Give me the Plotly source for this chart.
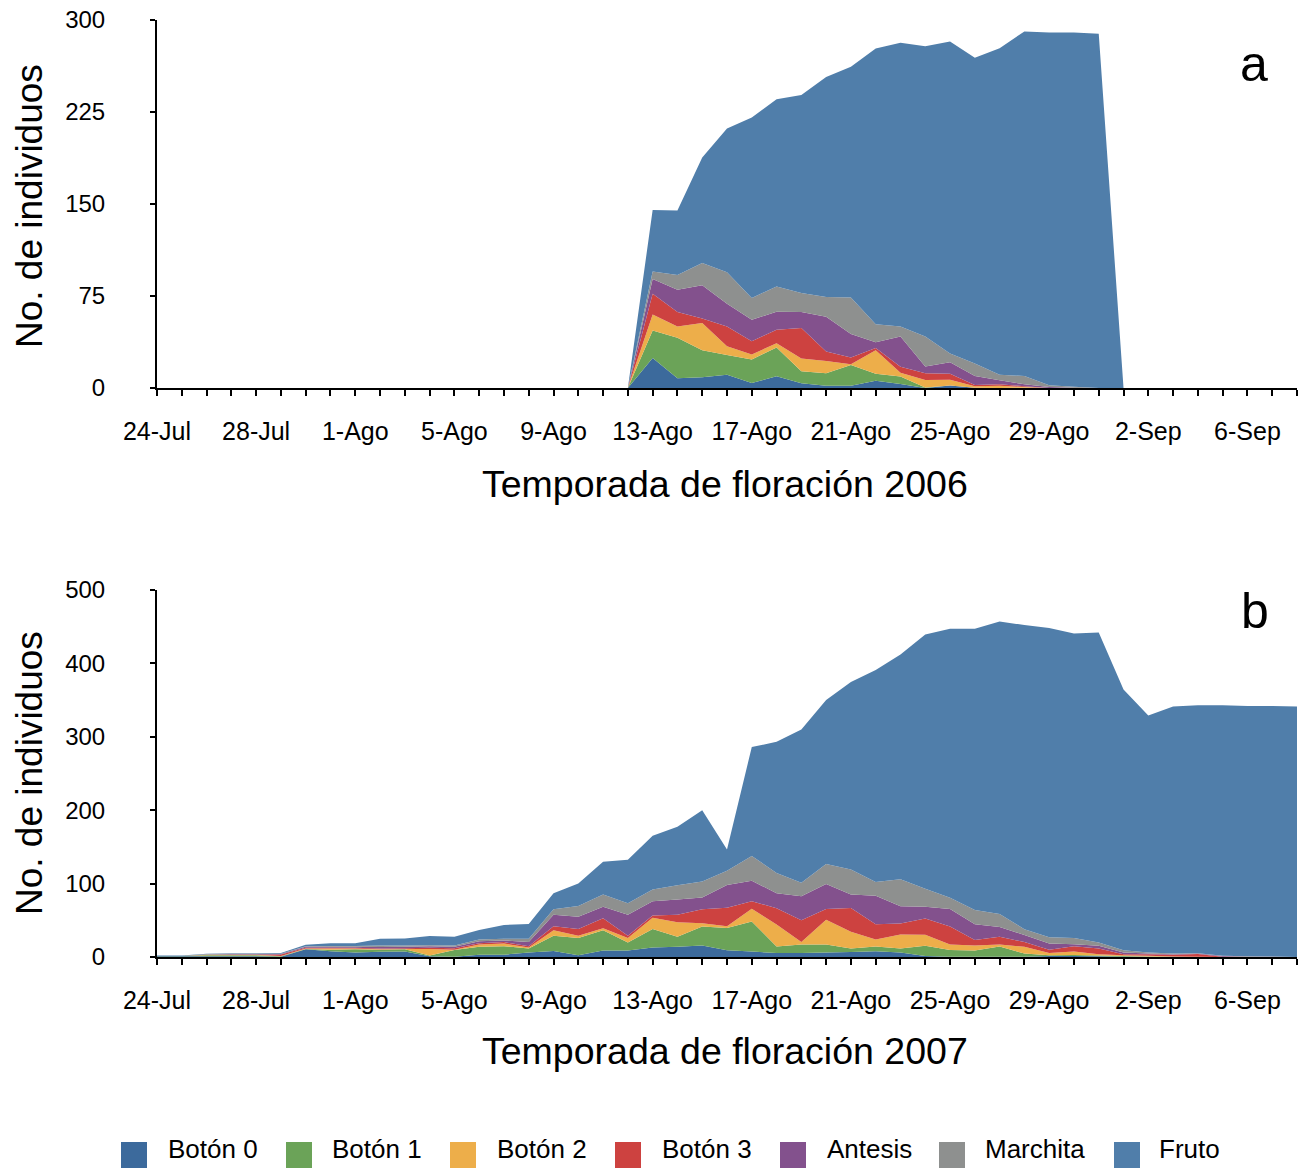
import plotly.graph_objects as go

# ---------------- data ----------------
series_names = ["Botón 0", "Botón 1", "Botón 2", "Botón 3", "Antesis", "Marchita", "Fruto"]
series_colors = ["#3C6A9C", "#6BA358", "#EDAE4A", "#CD4240", "#83518D", "#8E908F", "#507EAA"]

tick_days = [0, 4, 8, 12, 16, 20, 24, 28, 32, 36, 40, 44]
tick_labels = ["24-Jul", "28-Jul", "1-Ago", "5-Ago", "9-Ago", "13-Ago", "17-Ago",
               "21-Ago", "25-Ago", "29-Ago", "2-Sep", "6-Sep"]

# 2006 season: days since 24-Jul (19 .. 39)
dias_2006 = [19, 20, 21, 22, 23, 24, 25, 26, 27, 28, 29, 30, 31, 32, 33, 34, 35, 36, 37, 38, 39]
boton0_2006 = [0, 24.5, 7.9, 8.7, 10.9, 4.1, 9.5, 3.8, 1.9, 1.9, 6.0, 3.3, 0, 2.0, 0.3, 0, 0, 0, 0, 0, 0]
boton1_2006 = [0, 22.4, 33.0, 22.1, 16.1, 19.1, 23.5, 9.8, 10.1, 16.9, 5.7, 6.0, 0.5, 0, 0, 0, 0.3, 0, 0, 0, 0]
boton2_2006 = [0, 13.1, 9.2, 22.1, 7.1, 4.1, 3.5, 10.4, 10.1, 0.5, 19.1, 3.2, 6.0, 4.8, 1.1, 1.9, 0.5, 0, 0, 0, 0]
boton3_2006 = [0, 16.8, 11.8, 3.8, 16.0, 10.9, 10.9, 25.0, 7.6, 5.5, 1.9, 4.9, 5.5, 4.9, 1.1, 1.1, 0.6, 0, 0, 0, 0]
antesis_2006 = [0, 12.0, 18.2, 27.0, 18.6, 17.5, 14.7, 12.9, 28.3, 19.3, 4.6, 24.6, 5.5, 9.3, 7.3, 3.3, 1.6, 0.8, 0.3, 0, 0]
marchita_2006 = [0, 6.2, 12.0, 18.2, 25.6, 17.7, 20.7, 15.5, 16.1, 29.7, 14.7, 8.1, 24.5, 7.1, 10.1, 4.6, 6.8, 1.4, 0.8, 0, 0]
fruto_2006 = [0, 50.1, 52.5, 86.0, 117.3, 147.1, 152.5, 161.5, 179.5, 188.0, 224.8, 231.3, 236.7, 254.4,
              249.3, 266.1, 280.9, 287.7, 288.8, 288.8, 0]

# 2007 season: days since 24-Jul (0 .. 46)
dias_2007 = [0, 1, 2, 3, 4, 5, 6, 7, 8, 9, 10, 11, 12, 13, 14, 15, 16, 17, 18, 19, 20, 21, 22, 23,
             24, 25, 26, 27, 28, 29, 30, 31, 32, 33, 34, 35, 36, 37, 38, 39, 40, 41, 42, 43, 44, 45, 46]
boton0_2007 = [1, 1, 1, 1, 1, 0.5, 10.5, 8, 6, 7, 7.5, 1, 0.5, 3.2, 3.2, 6, 8.3, 2.3, 8.7, 8.7, 12.9,
               13.8, 15.7, 9.2, 7.4, 5.5, 5.5, 6, 6.9, 7.8, 6, 1.4, 0.5, 0.5, 0.5, 0.3, 1.4, 1.4, 1,
               0.5, 0.3, 0, 0, 0, 0, 0, 0]
boton1_2007 = [0.5, 0.5, 1.5, 1.5, 1.5, 0.5, 0.5, 2, 4.5, 3, 3, 1, 9, 10.6, 11.5, 5.5, 20.7, 23.5, 27.7,
               11.1, 25.3, 13.8, 25.7, 30.4, 40.9, 8.8, 11.5, 11, 4.6, 6.5, 5.5, 13.8, 9.2, 8.2, 13.8,
               4.3, 1.1, 1.4, 1, 0.9, 0.5, 0.3, 0, 0, 0, 0, 0]
boton2_2007 = [0, 0, 0.5, 0.5, 0.5, 0.5, 0.5, 1.5, 1, 0.5, 0.5, 9, 0.5, 3.2, 3.7, 1.5, 7.4, 3.2, 2.7, 6,
               15.2, 19.8, 4.6, 2.3, 17.5, 30.1, 3.3, 33.6, 23, 9.6, 19.3, 15.2, 7.3, 7, 2.7, 9.2, 3,
               4.6, 1.7, 0.9, 1, 0.5, 0.3, 0, 0, 0, 0]
boton3_2007 = [0, 0, 0, 0.5, 0.5, 2, 1, 1, 1, 1, 1, 1.5, 2, 1.9, 1.9, 1.5, 5.5, 9.2, 13.8, 3.2, 3.2,
               10.1, 18.9, 25.3, 10.2, 22.1, 29.9, 14.8, 32.3, 20.8, 14.8, 22.1, 24.4, 7.3, 10.6, 6.5,
               4.5, 7.3, 7.8, 1.4, 1.9, 2.4, 3.8, 0.5, 0, 0, 0]
antesis_2007 = [0, 0, 0.5, 0.5, 0.5, 0.5, 1.5, 1.5, 1.5, 2, 2, 2, 2, 2.7, 2.3, 6, 15.6, 16.6, 15.7, 28.5,
                19.4, 20.8, 16.1, 30.9, 28, 20.3, 32.7, 34, 18.4, 38.6, 23.5, 16.1, 24, 21.7, 13.4, 9.6,
                8.5, 2.8, 3.7, 2.3, 0.9, 0.7, 0.5, 0.8, 0.5, 0.3, 0]
marchita_2007 = [0, 0, 0.5, 0.5, 0.5, 0.5, 0.5, 1, 1, 2, 1.5, 1.5, 1.5, 2.3, 2.3, 4.5, 7.4, 14.7, 16.6,
                 15.7, 16.1, 19.3, 21.7, 19.3, 33.7, 27.8, 18.4, 27.2, 34, 18.9, 36.8, 24.4, 15.2, 19.3,
                 17.5, 7.9, 8.5, 8.3, 4.6, 3.2, 1.4, 0.7, 0.5, 0.5, 0.5, 0.3, 0]
fruto_2007 = [0.5, 0.5, 0.5, 0.5, 0.5, 1, 2.1, 3.9, 3.9, 9.5, 9.8, 12.5, 12.1, 12.9, 18.8, 20.0, 21.8,
              30.8, 44.7, 59.3, 73.2, 79.9, 97.1, 29.2, 148.3, 178.6, 208.8, 223.4, 255.3, 288.7, 306.3,
              346.5, 366.5, 383.1, 398.6, 414.4, 421.1, 414.9, 422.3, 355.3, 323.1, 336.8, 338, 341.3,
              341.1, 341.5, 341.2]

panel_a = [boton0_2006, boton1_2006, boton2_2006, boton3_2006, antesis_2006, marchita_2006, fruto_2006]
panel_b = [boton0_2007, boton1_2007, boton2_2007, boton3_2007, antesis_2007, marchita_2007, fruto_2007]

# ---------------- figure ----------------
W, H = 1301, 1168
ML, MR, MT, MB = 157, 4, 20, 211
PW, PH = W - ML - MR, H - MT - MB
FONT = "Liberation Sans, Arial, Helvetica, sans-serif"


def px_x(px):
    return (px - ML) / PW


def px_y(py):
    return (H - MB - py) / PH


fig = go.Figure()
for name, color, vals in zip(series_names, series_colors, panel_a):
    fig.add_trace(go.Scatter(x=dias_2006, y=vals, name=name, stackgroup="a", mode="none",
                             fillcolor=color, showlegend=False, xaxis="x", yaxis="y",
                             hoverinfo="x+y+name"))
for name, color, vals in zip(series_names, series_colors, panel_b):
    fig.add_trace(go.Scatter(x=dias_2007, y=vals, name=name, stackgroup="b", mode="none",
                             fillcolor=color, showlegend=False, xaxis="x2", yaxis="y2",
                             hoverinfo="x+y+name"))

xa = dict(range=[0, 46], showline=True, linewidth=2, linecolor="black", ticks="outside",
          ticklen=6, tickwidth=2, tickcolor="black", tickvals=tick_days, ticktext=tick_labels,
          showgrid=False, zeroline=False, tickfont=dict(size=25, color="black", family=FONT),
          ticklabelstandoff=14,
          minor=dict(dtick=1, tick0=0, ticks="outside", ticklen=6, tickwidth=2, tickcolor="black",
                     showgrid=False))
ya = dict(showline=True, linewidth=2, linecolor="black", ticks="outside", ticklen=5, tickwidth=2,
          tickcolor="black", showgrid=False, zeroline=False,
          tickfont=dict(size=24, color="black", family=FONT), ticklabelstandoff=40)

dom_a = [px_y(388), 1.0]
dom_b = [0.0, px_y(590)]

fig.update_layout(
    width=W, height=H,
    margin=dict(l=ML, r=MR, t=MT, b=MB),
    paper_bgcolor="white", plot_bgcolor="white",
    font=dict(family=FONT, color="black"),
    xaxis=dict(xa, anchor="y", domain=[0, 1]),
    yaxis=dict(ya, anchor="x", domain=dom_a, range=[0, 300], tickvals=[0, 75, 150, 225, 300]),
    xaxis2=dict(xa, anchor="y2", domain=[0, 1]),
    yaxis2=dict(ya, anchor="x2", domain=dom_b, range=[0, 500],
                tickvals=[0, 100, 200, 300, 400, 500]),
    showlegend=False,
)

ann = []
# axis titles
ann.append(dict(text="No. de individuos", x=px_x(29), y=px_y(206), textangle=-90,
                font=dict(size=37, family=FONT, color="black")))
ann.append(dict(text="No. de individuos", x=px_x(29), y=px_y(773), textangle=-90,
                font=dict(size=37, family=FONT, color="black")))
ann.append(dict(text="Temporada de floración 2006", x=px_x(725), y=px_y(484),
                font=dict(size=37.5, family=FONT, color="black")))
ann.append(dict(text="Temporada de floración 2007", x=px_x(725), y=px_y(1051),
                font=dict(size=37.5, family=FONT, color="black")))
# panel letters
ann.append(dict(text="a", x=px_x(1254), y=px_y(64), font=dict(size=50, family=FONT, color="black")))
ann.append(dict(text="b", x=px_x(1255), y=px_y(611), font=dict(size=50, family=FONT, color="black")))

# legend
leg_sq = [121, 286, 450, 615, 780, 939, 1114]
leg_tx = [166, 330, 495, 660, 825, 983, 1157]
shapes = []
for name, color, sx, tx in zip(series_names, series_colors, leg_sq, leg_tx):
    shapes.append(dict(type="rect", xref="paper", yref="paper", x0=px_x(sx), x1=px_x(sx + 26),
                       y0=px_y(1168), y1=px_y(1142), fillcolor=color, line=dict(width=0)))
    ann.append(dict(text=name, x=px_x(tx), y=px_y(1149), xanchor="left",
                    font=dict(size=26, family=FONT, color="black")))

for a in ann:
    a.setdefault("xref", "paper")
    a.setdefault("yref", "paper")
    a.setdefault("showarrow", False)
    a.setdefault("xanchor", "center")
    a.setdefault("yanchor", "middle")

fig.update_layout(annotations=ann, shapes=shapes)
fig.write_html("out.html")
